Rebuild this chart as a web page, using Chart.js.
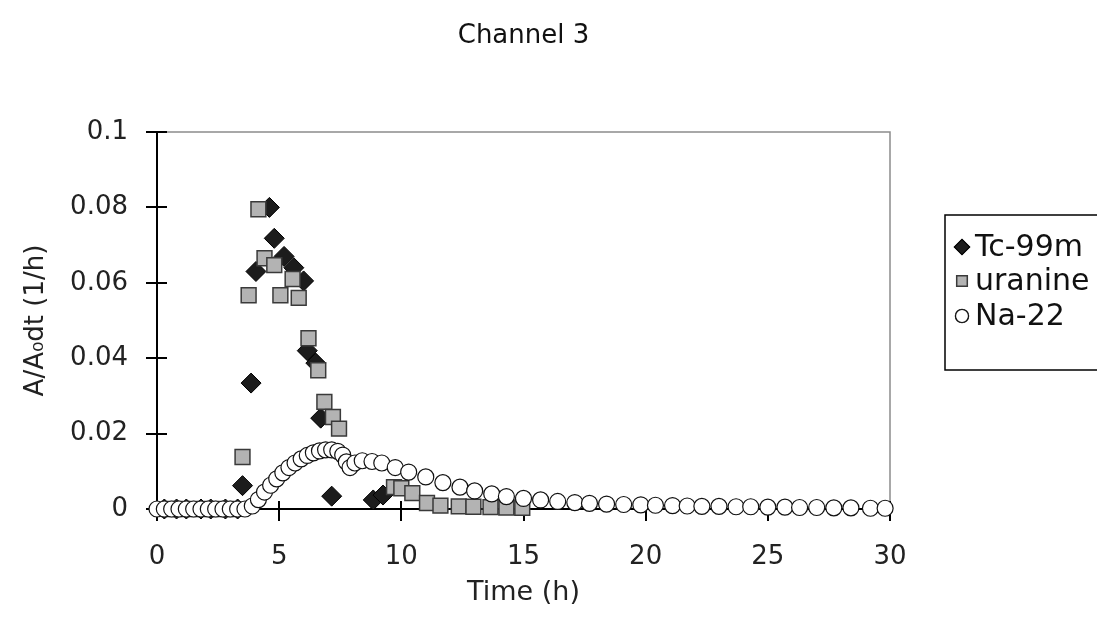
<!DOCTYPE html>
<html><head><meta charset="utf-8">
<script src="https://cdn.jsdelivr.net/npm/chart.js@4.4.1/dist/chart.umd.min.js"></script>
<style>html,body{margin:0;padding:0;background:#fff;overflow:hidden}</style>
</head><body>
<canvas id="c" width="1097" height="633"></canvas>
<script>
const chartTitle = 'Channel 3';
const xTitle = 'Time (h)';
const yTitle = 'A/A\u2080dt (1/h)';
const seriesNames = ['Tc-99m', 'uranine', 'Na-22'];
const xTickLabels = ['0', '5', '10', '15', '20', '25', '30'];
const yTickLabels = ['0', '0.02', '0.04', '0.06', '0.08', '0.1'];

const tcTime = [0.3, 0.8, 1.2, 1.8, 2.2, 2.8, 3.3, 3.5, 3.85, 4.05, 4.6, 4.8, 5.2, 5.6, 6.0, 6.15, 6.5, 6.7, 7.15, 8.85, 9.25];
const tcVal  = [0, 0, 0, 0, 0, 0, 0, 0.0062, 0.0334, 0.063, 0.080, 0.0718, 0.067, 0.064, 0.0605, 0.042, 0.0387, 0.0241, 0.0034, 0.0024, 0.0037];

const urTime = [0.5, 1.0, 1.5, 2.0, 2.5, 3.0, 3.5, 3.75, 4.15, 4.4, 4.8, 5.05, 5.55, 5.8, 6.2, 6.6, 6.85, 7.2, 7.45, 9.7, 10.0, 10.45, 11.05, 11.6, 12.35, 12.95, 13.65, 14.3, 14.95];
const urVal  = [0, 0, 0, 0, 0, 0, 0.0138, 0.0567, 0.0795, 0.0665, 0.0647, 0.0567, 0.061, 0.056, 0.0453, 0.0368, 0.0284, 0.0244, 0.0213, 0.0058, 0.0055, 0.0042, 0.0016, 0.0009, 0.0007, 0.0006, 0.0005, 0.0004, 0.0003];

const naTime = [0, 0.3, 0.6, 0.9, 1.2, 1.5, 1.8, 2.1, 2.4, 2.7, 3.0, 3.3, 3.6, 3.9, 4.15, 4.4, 4.65, 4.9, 5.15, 5.4, 5.65, 5.9, 6.15, 6.4, 6.65, 6.9, 7.15, 7.4, 7.6, 7.75, 7.9, 8.1, 8.4, 8.8, 9.2, 9.75, 10.3, 11.0, 11.7, 12.4, 13.0, 13.7, 14.3, 15.0, 15.7, 16.4, 17.1, 17.7, 18.4, 19.1, 19.8, 20.4, 21.1, 21.7, 22.3, 23.0, 23.7, 24.3, 25.0, 25.7, 26.3, 27.0, 27.7, 28.4, 29.2, 29.8];
const naVal  = [0, 0, 0, 0, 0, 0, 0, 0, 0, 0, 0, 0, 0, 0.0008, 0.0025, 0.0045, 0.0063, 0.008, 0.0096, 0.011, 0.0122, 0.0133, 0.0142, 0.0149, 0.0154, 0.0157, 0.0157, 0.0153, 0.0143, 0.0125, 0.011, 0.0122, 0.0128, 0.0126, 0.0122, 0.011, 0.0098, 0.0085, 0.007, 0.0058, 0.0048, 0.004, 0.0033, 0.0028, 0.0024, 0.002, 0.0017, 0.0015, 0.0013, 0.0012, 0.0011, 0.001, 0.0009, 0.0008, 0.0007, 0.0007, 0.0006, 0.0006, 0.0005, 0.0005, 0.0004, 0.0004, 0.0003, 0.0003, 0.0002, 0.0002];

const toPts = (xs, ys) => xs.map((x, i) => ({x: x, y: ys[i]}));
const FONT = 'DejaVu Sans';

const styles = [
  {pointStyle: 'rectRot', radius: 10, bg: '#1c1c1c', bd: '#000000', bw: 1, lr: 7.5},
  {pointStyle: 'rect', radius: 10.5, bg: '#b3b3b3', bd: '#3a3a3a', bw: 1.5, lr: 7.5},
  {pointStyle: 'circle', radius: 8, bg: '#ffffff', bd: '#111111', bw: 1.2, lr: 6.5}
];

const framePlugin = {
  id: 'frame',
  beforeDatasetsDraw(chart) {
    const {ctx, chartArea: a, scales: {x, y}} = chart;
    ctx.save();
    ctx.strokeStyle = '#8c8c8c'; ctx.lineWidth = 1.5;
    ctx.beginPath(); ctx.moveTo(a.left, a.top); ctx.lineTo(a.right, a.top); ctx.lineTo(a.right, a.bottom); ctx.stroke();
    ctx.strokeStyle = '#000'; ctx.lineWidth = 2;
    x.ticks.forEach(t => { const px = Math.round(x.getPixelForValue(t.value)); ctx.beginPath(); ctx.moveTo(px, a.bottom); ctx.lineTo(px, a.bottom - 8); ctx.stroke(); });
    y.ticks.forEach(t => { const py = Math.round(y.getPixelForValue(t.value)); ctx.beginPath(); ctx.moveTo(a.left, py); ctx.lineTo(a.left + 10, py); ctx.stroke(); });
    ctx.restore();
  },
  afterDraw(chart) {
    const {ctx, chartArea: a} = chart;
    ctx.save();
    ctx.fillStyle = '#111';
    ctx.font = '26px "' + FONT + '"';
    ctx.textAlign = 'center'; ctx.textBaseline = 'middle';
    ctx.fillText(chartTitle, (a.left + a.right) / 2, 36);
    const lx = 945, ly = 215, lw = 160, lh = 155;
    ctx.strokeStyle = '#000'; ctx.lineWidth = 1.5;
    ctx.strokeRect(lx, ly, lw, lh);
    ctx.font = '30px "' + FONT + '"';
    ctx.textAlign = 'left';
    const rows = [247, 281, 316];
    chart.data.datasets.forEach((ds, i) => {
      const st = styles[i];
      Chart.helpers.drawPoint(ctx, {pointStyle: st.pointStyle, radius: st.lr, borderWidth: st.bw, rotation: 0}, 962, rows[i]);
      ctx.fillStyle = st.bg; ctx.strokeStyle = st.bd; ctx.lineWidth = st.bw;
      ctx.fill(); ctx.stroke();
      ctx.fillStyle = '#111';
      ctx.fillText(seriesNames[i], 975, rows[i] + 1);
    });
    ctx.restore();
  }
};

const mk = (i, pts, order) => ({
  label: seriesNames[i], data: pts, order: order, clip: false,
  pointStyle: styles[i].pointStyle, pointRadius: styles[i].radius, pointHoverRadius: styles[i].radius,
  backgroundColor: styles[i].bg, borderColor: styles[i].bd, pointBorderWidth: styles[i].bw, borderWidth: styles[i].bw,
  showLine: false
});

new Chart(document.getElementById('c'), {
  type: 'scatter',
  data: {
    datasets: [
      mk(0, toPts(tcTime, tcVal), 3),
      mk(1, toPts(urTime, urVal), 2),
      mk(2, toPts(naTime, naVal), 1)
    ]
  },
  options: {
    responsive: false, animation: false, devicePixelRatio: 1,
    layout: {padding: {top: 132, right: 207, bottom: 0, left: 0}},
    plugins: {legend: {display: false}, title: {display: false}, tooltip: {enabled: false}},
    scales: {
      x: {
        type: 'linear', min: 0, max: 30,
        ticks: {stepSize: 5, color: '#222', font: {family: FONT, size: 26}, padding: 21, maxRotation: 0,
                callback: (v, i) => xTickLabels[i]},
        grid: {drawOnChartArea: false, drawTicks: true, tickLength: 12, color: '#000', lineWidth: 2},
        border: {color: '#000', width: 2},
        title: {display: true, text: xTitle, color: '#222', font: {family: FONT, size: 27}, padding: {top: 0, bottom: 24}},
        afterFit: s => { s.height = 124; }
      },
      y: {
        type: 'linear', min: 0, max: 0.1,
        ticks: {stepSize: 0.02, color: '#222', font: {family: FONT, size: 26}, padding: 18,
                callback: (v, i) => yTickLabels[i]},
        grid: {drawOnChartArea: false, drawTicks: true, tickLength: 11, color: '#000', lineWidth: 2},
        border: {color: '#000', width: 2},
        title: {display: true, text: yTitle, color: '#222', font: {family: FONT, size: 26}, padding: {top: 21, bottom: 0}},
        afterFit: s => { s.width = 157; }
      }
    }
  },
  plugins: [framePlugin]
});
</script>
</body></html>
